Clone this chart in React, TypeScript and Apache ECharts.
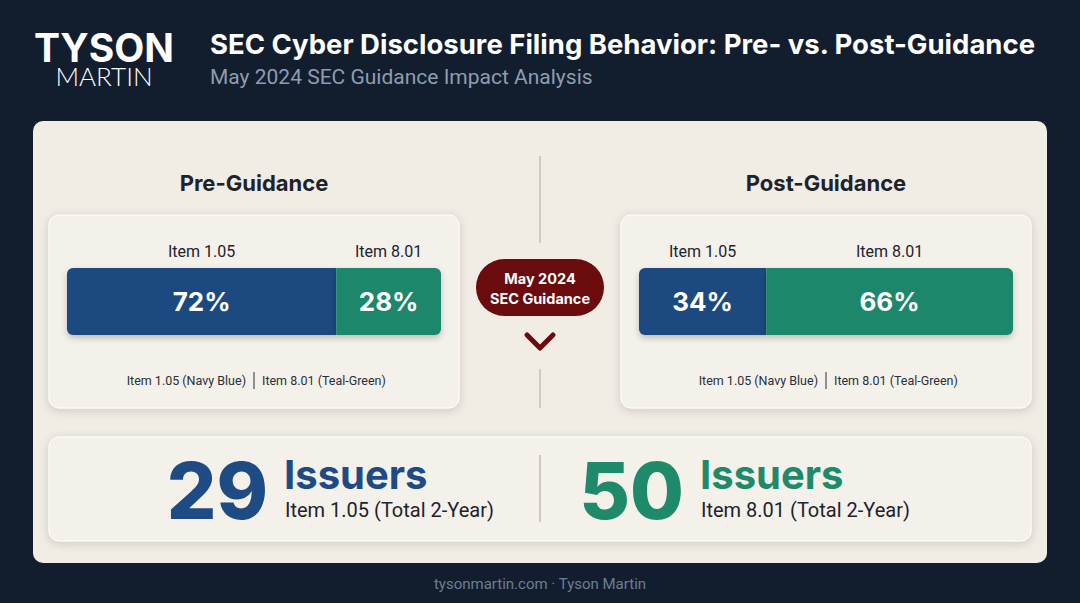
import { useEffect, useRef } from "react";
import * as echarts from "echarts";

// ─── Data ──────────────────────────────────────────────────────────
const CATEGORIES = ["Item 1.05", "Item 8.01"];
const COLOR_NAMES = ["Navy Blue", "Teal-Green"];
const PHASES = ["Pre-Guidance", "Post-Guidance"];
const PRE_SHARE = [72, 28];
const POST_SHARE = [34, 66];
const ISSUER_TOTALS = [29, 50];
const ISSUER_NOTES = ["Item 1.05 (Total 2-Year)", "Item 8.01 (Total 2-Year)"];

// ─── Theme ─────────────────────────────────────────────────────────
const C = {
  bg: "#121d2e",
  card: "#f1ede5",
  panel: "#f4f1eb",
  navy: "#1c4a7f",
  teal: "#1f876a",
  navyText: "#1e4b84",
  tealText: "#1f8a6a",
  ink: "#1d232c",
  divider: "#c4bcae",
  badge: "#6a0b0d",
  sub: "#8d9db0",
  footer: "#6d7e93",
};
const SEG_COLORS = [C.navy, C.teal];
const BOLD = "Inter, 'Noto Sans', sans-serif";
const BODY = "Roboto, 'Noto Sans', sans-serif";

const GRIDS = [
  { left: 67, top: 268, width: 374, height: 67 },
  { left: 639, top: 268, width: 374, height: 67 },
];

function buildSeries() {
  const shares = [PRE_SHARE, POST_SHARE];
  const out: any[] = [];
  shares.forEach((share, p) => {
    share.forEach((v, i) => {
      const first = i === 0;
      const last = i === share.length - 1;
      out.push({
        type: "bar",
        name: `${PHASES[p]} ${CATEGORIES[i]}`,
        xAxisIndex: p,
        yAxisIndex: p,
        stack: `bar${p}`,
        barWidth: 67,
        barGap: "-100%",
        data: [v],
        itemStyle: {
          color: SEG_COLORS[i],
          borderRadius: [first ? 6 : 0, last ? 6 : 0, last ? 6 : 0, first ? 6 : 0],
          shadowBlur: 6,
          shadowOffsetY: 3,
          shadowColor: "rgba(0,0,0,0.22)",
        },
        label: {
          show: true,
          position: "inside",
          formatter: `${v}%`,
          color: "#ffffff",
          fontFamily: BOLD,
          fontWeight: "bold",
          fontSize: 26,
        },
        z: 3,
      });
      // transparent twin carrying the category label above the segment
      out.push({
        type: "bar",
        name: `${PHASES[p]} ${CATEGORIES[i]} label`,
        xAxisIndex: p,
        yAxisIndex: p,
        stack: `lbl${p}`,
        barWidth: 67,
        barGap: "-100%",
        data: [v],
        itemStyle: { color: "rgba(0,0,0,0)" },
        label: {
          show: true,
          position: "top",
          distance: 9,
          formatter: CATEGORIES[i],
          color: C.ink,
          fontFamily: BODY,
          fontSize: 16,
        },
        z: 4,
      });
    });
  });
  return out;
}

function buildGraphic() {
  const g: any[] = [];
  const rect = (x, y, w, h, r, fill, extra = {}) => ({
    type: "rect",
    shape: { x, y, width: w, height: h, r },
    style: { fill, ...extra },
    z: 0,
    silent: true,
  });
  const text = (x, y, t, style) => ({
    type: "text",
    x,
    y,
    style: { text: t, ...style },
    z: 10,
    silent: true,
  });
  const line = (x1, y1, x2, y2, stroke, w = 1.5) => ({
    type: "line",
    shape: { x1, y1, x2, y2 },
    style: { stroke, lineWidth: w },
    z: 1,
    silent: true,
  });

  g.push(rect(0, 0, 1080, 603, 0, C.bg));

  // header – logo as one two-line rich text block
  g.push(
    text(104, 31, "{a|TYSON}\n{b|MARTIN}", {
      fill: "#ffffff",
      align: "center",
      verticalAlign: "top",
      rich: {
        a: { fill: "#ffffff", font: `bold 39px ${BOLD}`, lineHeight: 32, align: "center" },
        b: { fill: "#ffffff", font: `300 26px Lato, ${BODY}`, lineHeight: 26, align: "center" },
      },
    })
  );
  g.push(
    text(210, 44, "SEC Cyber Disclosure Filing Behavior: Pre- vs. Post-Guidance", {
      fill: "#ffffff",
      font: `bold 27.5px ${BOLD}`,
      align: "left",
      verticalAlign: "middle",
    })
  );
  g.push(
    text(210, 77, "May 2024 SEC Guidance Impact Analysis", {
      fill: C.sub,
      font: `21px ${BODY}`,
      align: "left",
      verticalAlign: "middle",
    })
  );

  // main card
  g.push(rect(33, 121, 1014, 442, 10, C.card));

  // phase titles
  [254, 826].forEach((cx, p) =>
    g.push(text(cx, 183, PHASES[p], { fill: C.ink, font: `bold 22px ${BOLD}`, align: "center", verticalAlign: "middle" }))
  );

  // panels
  [49, 621].forEach((x) =>
    g.push(
      rect(x, 215, 410, 193, 10, C.panel, {
        shadowBlur: 10,
        shadowOffsetY: 2,
        shadowColor: "rgba(60,50,30,0.18)",
        stroke: "#ffffff",
        lineWidth: 1,
      })
    )
  );

  // legend lines inside panels
  [254, 826].forEach((cx) => {
    g.push(
      text(cx - 8, 380, `${CATEGORIES[0]} (${COLOR_NAMES[0]})`, {
        fill: "#2a2f36",
        font: `12.5px ${BODY}`,
        align: "right",
        verticalAlign: "middle",
      })
    );
    g.push(line(cx, 372, cx, 389, "#2a2f36", 1));
    g.push(
      text(cx + 8, 380, `${CATEGORIES[1]} (${COLOR_NAMES[1]})`, {
        fill: "#2a2f36",
        font: `12.5px ${BODY}`,
        align: "left",
        verticalAlign: "middle",
      })
    );
  });

  // center divider + badge
  g.push(line(540, 156, 540, 243, C.divider));
  g.push(line(540, 369, 540, 408, C.divider));
  g.push(rect(476, 259, 128, 57, 28.5, C.badge));
  g.push(
    text(540, 288, "May 2024\nSEC Guidance", {
      fill: "#ffffff",
      font: `bold 14.5px ${BOLD}`,
      align: "center",
      verticalAlign: "middle",
      lineHeight: 20,
    })
  );
  g.push({
    type: "polyline",
    shape: { points: [[527, 335], [540, 348], [553, 335]] },
    style: { stroke: C.badge, lineWidth: 5, lineCap: "round", lineJoin: "round", fill: null },
    z: 5,
    silent: true,
  });

  // bottom summary card
  g.push(
    rect(49, 437, 982, 104, 10, C.panel, {
      shadowBlur: 10,
      shadowOffsetY: 2,
      shadowColor: "rgba(60,50,30,0.18)",
      stroke: "#ffffff",
      lineWidth: 1,
    })
  );
  g.push(line(540, 455, 540, 522, C.divider));
  const numColors = [C.navyText, C.tealText];
  [268, 684].forEach((nx, i) => {
    g.push(
      text(nx, 490, String(ISSUER_TOTALS[i]), {
        fill: numColors[i],
        font: `800 78px ${BOLD}`,
        align: "right",
        verticalAlign: "middle",
      })
    );
    g.push(
      text(nx + 16, 474, "Issuers", {
        fill: numColors[i],
        font: `bold 40px ${BOLD}`,
        align: "left",
        verticalAlign: "middle",
      })
    );
    g.push(
      text(nx + 17, 510, ISSUER_NOTES[i], {
        fill: C.ink,
        font: `20px ${BODY}`,
        align: "left",
        verticalAlign: "middle",
      })
    );
  });

  // footer
  g.push(
    text(540, 584, "tysonmartin.com · Tyson Martin", {
      fill: C.footer,
      font: `15px ${BODY}`,
      align: "center",
      verticalAlign: "middle",
    })
  );
  return g;
}

export default function App() {
  const ref = useRef<HTMLDivElement>(null);

  useEffect(() => {
    if (!ref.current) return;
    const chart = echarts.init(ref.current, undefined, { renderer: "svg" });
    chart.setOption({
      animation: false,
      backgroundColor: C.bg,
      graphic: { elements: buildGraphic() },
      grid: GRIDS.map((gr) => ({ ...gr, containLabel: false })),
      xAxis: GRIDS.map((_, i) => ({
        type: "value",
        gridIndex: i,
        min: 0,
        max: 100,
        show: false,
      })),
      yAxis: GRIDS.map((_, i) => ({
        type: "category",
        gridIndex: i,
        data: [PHASES[i]],
        show: false,
      })),
      series: buildSeries(),
    });
    return () => chart.dispose();
  }, []);

  return (
    <div
      ref={ref}
      style={{ position: "fixed", left: 0, top: 0, width: 1080, height: 603 }}
    />
  );
}
